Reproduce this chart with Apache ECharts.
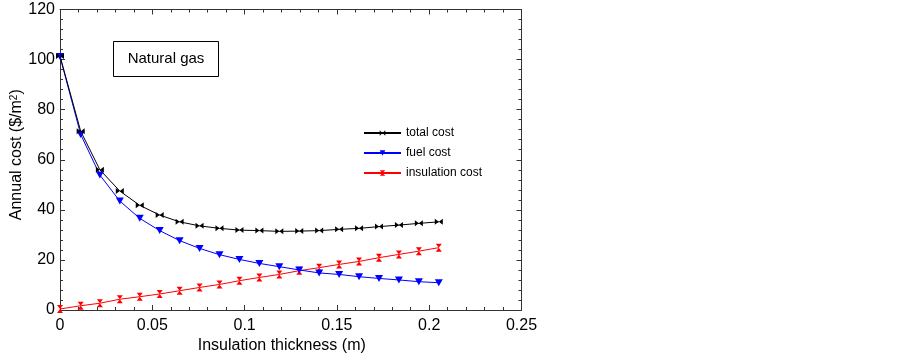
<!DOCTYPE html>
<html>
<head>
<meta charset="utf-8">
<script src="https://cdn.jsdelivr.net/npm/echarts@6/dist/echarts.min.js"></script>
<style>
  html, body { margin: 0; padding: 0; background: #fff; }
  #chart { width: 903px; height: 361px; }
</style>
</head>
<body>
<div id="chart"></div>
<script>
// insulation thickness (m) and annual costs ($/m2)
const thickness = [0, 0.0112, 0.0216, 0.0324, 0.0432, 0.054, 0.0648, 0.0756, 0.0864, 0.0972,
  0.108, 0.1188, 0.1296, 0.1404, 0.1512, 0.162, 0.1728, 0.1836, 0.1944, 0.2052];
const totalCost = [101.4, 71.4, 56.0, 47.5, 41.8, 37.9, 35.2, 33.6, 32.6, 31.9,
  31.7, 31.4, 31.5, 31.7, 32.2, 32.6, 33.3, 33.9, 34.6, 35.2];
const fuelCost = [101.2, 70.1, 53.9, 43.5, 36.6, 31.7, 27.7, 24.6, 22.1, 20.2,
  18.6, 17.3, 16.0, 14.8, 14.2, 13.3, 12.6, 12.0, 11.3, 10.9];
const insulationCost = [0.4, 1.7, 2.7, 4.3, 5.3, 6.4, 7.7, 9.0, 10.2, 11.7,
  13.0, 14.2, 15.7, 16.9, 18.2, 19.4, 20.9, 22.2, 23.5, 24.9];
const seriesNames = ["total cost", "fuel cost", "insulation cost"];

const FONT = "Liberation Sans, Arial, sans-serif";
const pair = (ys) => thickness.map((x, i) => [x, ys[i]]);

// marker shapes: bowtie, down triangle, hourglass
const SYM = {
  total: "path://M0,0L5,4L0,8ZM10,0L5,4L10,8Z",
  fuel: "path://M0,0L10,0L5,9Z",
  insul: "path://M0,0L8,0L4,5L8,10L0,10L4,5Z",
};

// all four frame sides get inward major + minor ticks
function frameAxis(extra, showLabel, margin) {
  return Object.assign({
    axisLine: { show: true, onZero: false, lineStyle: { color: "#333", width: 1 } },
    axisTick: { show: true, inside: true, length: 5, lineStyle: { color: "#333" } },
    minorTick: { show: true, splitNumber: 5, length: 3, lineStyle: { color: "#333" } },
    splitLine: { show: false },
    axisLabel: { show: showLabel, color: "#000", fontSize: 16, fontFamily: FONT, margin: margin || 6 },
  }, extra);
}

const chart = echarts.init(document.getElementById("chart"), null, { renderer: "canvas" });
chart.setOption({
  animation: false,
  backgroundColor: "#fff",
  grid: { left: 60, right: 381.5, top: 9.5, bottom: 51, containLabel: false, outerBoundsMode: "none" },
  legend: {
    orient: "vertical", left: 363, top: 125, padding: 0,
    itemWidth: 37, itemHeight: 7, itemGap: 4,
    data: seriesNames,
    textStyle: { color: "#000", fontSize: 12, fontFamily: FONT, lineHeight: 14, padding: [1, 0, 1, 0] },
  },
  graphic: [{
    type: "group", left: 113, top: 41,
    children: [
      { type: "rect", shape: { x: 0, y: 0, width: 105, height: 35 }, style: { fill: "#fff", stroke: "#000", lineWidth: 1 } },
      { type: "text", x: 52.5, y: 17.5, style: { text: "Natural gas", fill: "#000", font: "15px " + FONT, align: "center", verticalAlign: "middle" } },
    ],
  }],
  xAxis: [
    frameAxis({
      type: "value", min: 0, max: 0.25, interval: 0.05, position: "bottom",
      name: "Insulation thickness (m)", nameLocation: "middle", nameGap: 28, nameMoveOverlap: false,
      nameTextStyle: { color: "#000", fontSize: 16, fontFamily: FONT, padding: [0, 18, 0, 0] },
    }, true, 8),
    frameAxis({ type: "value", min: 0, max: 0.25, interval: 0.05, position: "top" }, false),
  ],
  yAxis: [
    frameAxis({
      type: "value", min: 0, max: 120, interval: 20, position: "left",
      name: "Annual cost ($/m{sup|2})", nameLocation: "middle", nameGap: 35, nameMoveOverlap: false,
      nameTextStyle: {
        color: "#000", fontSize: 16, fontFamily: FONT, padding: [0, 0, 0, 10],
        rich: { sup: { fontSize: 10, verticalAlign: "top", lineHeight: 10, color: "#000", fontFamily: FONT } },
      },
    }, true, 5),
    frameAxis({ type: "value", min: 0, max: 120, interval: 20, position: "right" }, false),
  ],
  series: [
    {
      name: seriesNames[2], type: "line", data: pair(insulationCost),
      symbol: SYM.insul, symbolSize: [6, 8],
      lineStyle: { color: "#ff0000", width: 1 }, itemStyle: { color: "#ff0000" },
    },
    {
      name: seriesNames[1], type: "line", data: pair(fuelCost),
      symbol: SYM.fuel, symbolSize: [8, 7],
      lineStyle: { color: "#0000ff", width: 1 }, itemStyle: { color: "#0000ff" },
    },
    {
      name: seriesNames[0], type: "line", data: pair(totalCost),
      symbol: SYM.total, symbolSize: [8, 6],
      lineStyle: { color: "#000", width: 1 }, itemStyle: { color: "#000" },
    },
  ],
});
</script>
</body>
</html>
